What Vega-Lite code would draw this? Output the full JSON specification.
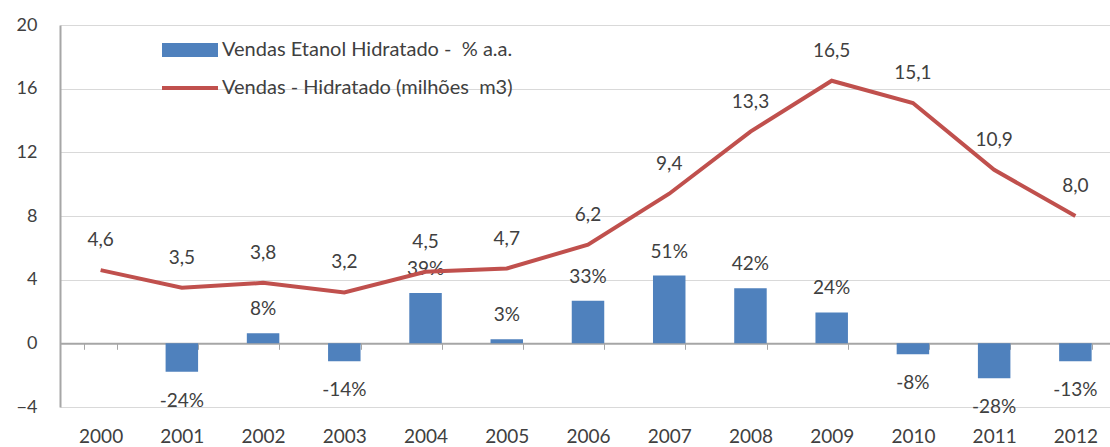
{
  "$schema": "https://vega.github.io/schema/vega-lite/v6.json",
  "width": 1056,
  "height": 382,
  "autosize": {"type": "none"},
  "padding": {"left": 60, "top": 25, "right": 0, "bottom": 40},
  "background": "white",
  "config": {"view": {"stroke": null}, "font": "Lato"},
  "data": {
    "values": [
      {"ano": "2000", "v": 4.6, "vl": "4,6", "b": null, "p": ""},
      {"ano": "2001", "v": 3.5, "vl": "3,5", "b": -1.79, "p": "-24%"},
      {"ano": "2002", "v": 3.8, "vl": "3,8", "b": 0.63, "p": "8%"},
      {"ano": "2003", "v": 3.2, "vl": "3,2", "b": -1.12, "p": "-14%"},
      {"ano": "2004", "v": 4.5, "vl": "4,5", "b": 3.16, "p": "39%"},
      {"ano": "2005", "v": 4.7, "vl": "4,7", "b": 0.25, "p": "3%"},
      {"ano": "2006", "v": 6.2, "vl": "6,2", "b": 2.68, "p": "33%"},
      {"ano": "2007", "v": 9.4, "vl": "9,4", "b": 4.26, "p": "51%"},
      {"ano": "2008", "v": 13.3, "vl": "13,3", "b": 3.46, "p": "42%"},
      {"ano": "2009", "v": 16.5, "vl": "16,5", "b": 1.94, "p": "24%"},
      {"ano": "2010", "v": 15.1, "vl": "15,1", "b": -0.69, "p": "-8%"},
      {"ano": "2011", "v": 10.9, "vl": "10,9", "b": -2.2, "p": "-28%"},
      {"ano": "2012", "v": 8.0, "vl": "8,0", "b": -1.12, "p": "-13%"}
    ]
  },
  "encoding": {
    "x": {
      "field": "ano",
      "type": "ordinal",
      "scale": {"paddingInner": 0.6, "paddingOuter": 0.3},
      "axis": {
        "title": null,
        "orient": "bottom",
        "offset": -63.7,
        "domainColor": "#a6a6a6",
        "domainWidth": 2,
        "ticks": true,
        "tickBand": "extent",
        "tickSize": 6,
        "tickColor": "#a6a6a6",
        "tickWidth": 1,
        "labelPadding": 78,
        "labelFontSize": 19,
        "labelColor": "#404040",
        "labelAngle": 0,
        "grid": false
      }
    }
  },
  "layer": [
    {
      "mark": {"type": "bar"},
      "encoding": {
        "y": {
          "field": "b",
          "type": "quantitative",
          "scale": {"domain": [-4, 20], "nice": false, "zero": false},
          "axis": {
            "title": null,
            "values": [-4, 0, 4, 8, 12, 16, 20],
            "grid": true,
            "gridColor": "#d9d9d9",
            "gridWidth": 1,
            "domainColor": "#a6a6a6",
            "domainWidth": 2,
            "ticks": false,
            "labelPadding": 23,
            "labelFontSize": 18,
            "labelColor": "#404040"
          }
        },
        "color": {
          "datum": "Vendas Etanol Hidratado -\u00a0 % a.a.",
          "type": "nominal",
          "scale": {
            "domain": ["Vendas Etanol Hidratado -\u00a0 % a.a.", "Vendas - Hidratado (milhões\u00a0 m3)"],
            "range": ["#4f81bd", "#c0504d"]
          },
          "legend": {
            "title": null,
            "orient": "none",
            "legendX": 102,
            "legendY": -3,
            "padding": 0,
            "direction": "vertical",
            "symbolSize": 3136,
            "symbolStrokeWidth": 0,
            "rowPadding": -20,
            "labelOffset": 4,
            "labelFontSize": 20,
            "labelColor": "#404040",
            "labelLimit": 0,
            "encode": {
              "symbols": {
                "update": {
                  "shape": {"signal": "datum.index === 0 ? 'M-1,-0.25H1V0.25H-1Z' : 'M-1,-0.07H1V0.07H-1Z'"},
                  "fill": {"signal": "datum.index === 0 ? '#4f81bd' : '#c0504d'"},
                  "stroke": {"value": "transparent"},
                  "opacity": {"value": 1},
                  "fillOpacity": {"value": 1}
                }
              }
            }
          }
        }
      }
    },
    {
      "transform": [{"filter": "datum.b > 0"}],
      "mark": {"type": "text", "dy": -24, "baseline": "middle", "fontSize": 19, "color": "#404040"},
      "encoding": {
        "y": {"field": "b", "type": "quantitative"},
        "text": {"field": "p"}
      }
    },
    {
      "transform": [{"filter": "datum.b < 0"}],
      "mark": {"type": "text", "dy": 29, "baseline": "middle", "fontSize": 19, "color": "#404040"},
      "encoding": {
        "y": {"field": "b", "type": "quantitative"},
        "text": {"field": "p"}
      }
    },
    {
      "mark": {"type": "text", "dy": -30, "baseline": "middle", "fontSize": 19, "color": "#404040"},
      "encoding": {
        "y": {"field": "v", "type": "quantitative"},
        "text": {"field": "vl"}
      }
    },
    {
      "mark": {"type": "line", "strokeWidth": 4},
      "encoding": {
        "y": {"field": "v", "type": "quantitative"},
        "color": {"datum": "Vendas - Hidratado (milhões\u00a0 m3)", "type": "nominal"}
      }
    }
  ]
}
